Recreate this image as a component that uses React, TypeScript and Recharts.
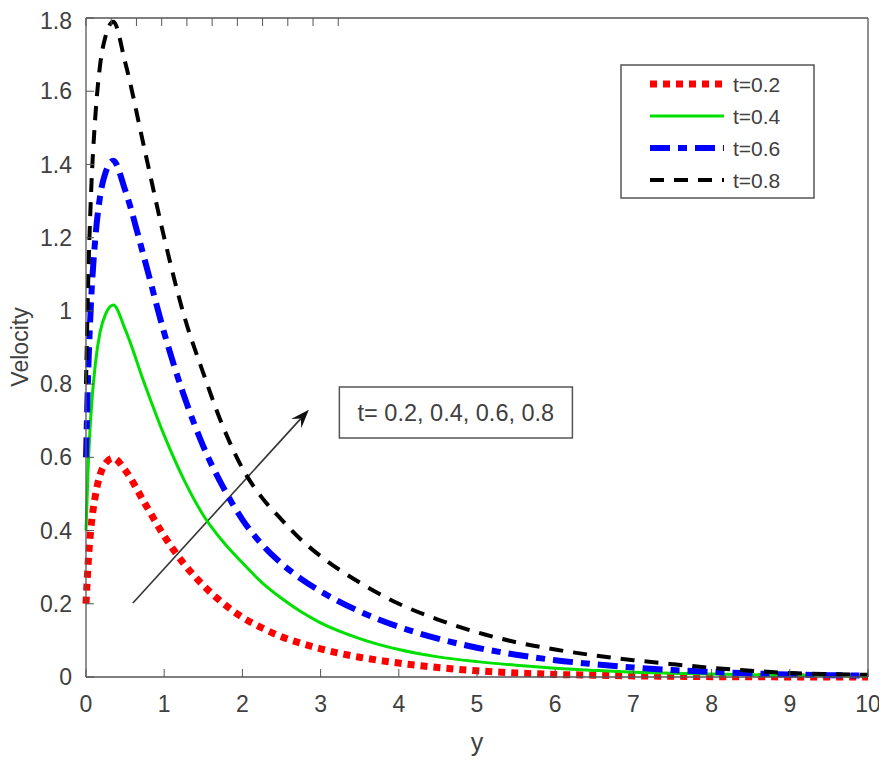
import { LineChart, Line, XAxis, YAxis, Legend, ReferenceArea, ReferenceLine } from "recharts";

// y positions (x-axis) and velocity profiles for each time
const yPos = [0, 0.03, 0.06, 0.12, 0.18, 0.25, 0.35, 0.5, 0.75, 1, 1.25, 1.5, 1.75, 2, 2.25, 2.5, 2.75, 3, 3.5, 4, 4.5, 5, 5.5, 6, 6.5, 7, 7.5, 8, 8.5, 9, 9.5, 10];
const t02 = [0.2, 0.32, 0.4, 0.496, 0.552, 0.584, 0.598, 0.565, 0.475, 0.385, 0.31, 0.25, 0.202, 0.163, 0.134, 0.11, 0.092, 0.077, 0.054, 0.038, 0.026, 0.017, 0.011, 0.007, 0.005, 0.003, 0.002, 0.001, 0.001, 0, 0, 0];
const t04 = [0.4, 0.585, 0.708, 0.856, 0.942, 0.991, 1.016, 0.95, 0.8, 0.66, 0.54, 0.442, 0.37, 0.312, 0.258, 0.215, 0.178, 0.148, 0.105, 0.075, 0.055, 0.042, 0.032, 0.024, 0.018, 0.013, 0.01, 0.008, 0.006, 0.005, 0.004, 0.003];
const t06 = [0.6, 0.843, 1.005, 1.2, 1.313, 1.378, 1.41, 1.33, 1.14, 0.94, 0.77, 0.63, 0.52, 0.43, 0.362, 0.31, 0.268, 0.234, 0.179, 0.137, 0.105, 0.08, 0.061, 0.046, 0.035, 0.026, 0.019, 0.014, 0.01, 0.007, 0.005, 0.004];
const t08 = [0.8, 1.097, 1.295, 1.533, 1.671, 1.75, 1.79, 1.68, 1.44, 1.2, 0.99, 0.83, 0.685, 0.57, 0.49, 0.43, 0.375, 0.33, 0.258, 0.2, 0.157, 0.122, 0.095, 0.075, 0.059, 0.046, 0.035, 0.025, 0.017, 0.011, 0.008, 0.006];

const xTicks = [0, 1, 2, 3, 4, 5, 6, 7, 8, 9, 10];
const yTicks = [0, 0.2, 0.4, 0.6, 0.8, 1, 1.2, 1.4, 1.6, 1.8];

const data = yPos.map((y, i) => ({ y, t02: t02[i], t04: t04[i], t06: t06[i], t08: t08[i] }));

const series = [
  { key: "t02", name: "t=0.2", color: "#ff0000", width: 7, dash: "7 6" },
  { key: "t04", name: "t=0.4", color: "#00e000", width: 3, dash: undefined },
  { key: "t06", name: "t=0.6", color: "#0000ff", width: 6, dash: "20 8 9 8" },
  { key: "t08", name: "t=0.8", color: "#000000", width: 4, dash: "14 10" },
];

const FONT = "'Liberation Sans', Arial, sans-serif";
const AXIS = "#555555";
const TEXT = "#404040";

function LegendBox() {
  return (
    <svg width={195} height={135} style={{ display: "block" }}>
      <rect x={1} y={1} width={193} height={133} fill="#fff" stroke={AXIS} strokeWidth={1.5} />
      {series.map((s, i) => {
        const cy = 20 + i * 32;
        return (
          <g key={s.key}>
            <line x1={30} x2={104} y1={cy} y2={cy} stroke={s.color} strokeWidth={s.width} strokeDasharray={s.dash} />
            <text x={113} y={cy + 8} fontSize={21} fill={TEXT} fontFamily={FONT}>{s.name}</text>
          </g>
        );
      })}
    </svg>
  );
}

function Arrow(props: any) {
  const { x1, y1, x2, y2 } = props;
  const ang = Math.atan2(y2 - y1, x2 - x1);
  const len = 20;
  const half = 0.35;
  const p1 = [x2 - len * Math.cos(ang - half), y2 - len * Math.sin(ang - half)];
  const p2 = [x2 - len * Math.cos(ang + half), y2 - len * Math.sin(ang + half)];
  const pb = [x2 - len * 0.6 * Math.cos(ang), y2 - len * 0.6 * Math.sin(ang)];
  return (
    <g>
      <line x1={x1} y1={y1} x2={pb[0]} y2={pb[1]} stroke="#333" strokeWidth={1.6} />
      <polygon points={`${x2},${y2} ${p1[0]},${p1[1]} ${pb[0]},${pb[1]} ${p2[0]},${p2[1]}`} fill="#111" />
    </g>
  );
}

export default function App() {
  return (
    <LineChart width={879} height={756} data={data} margin={{ top: 0, right: 9, bottom: 27, left: 18 }}>
      <XAxis
        dataKey="y"
        type="number"
        domain={[0, 10]}
        ticks={xTicks}
        tickSize={-8}
        tickMargin={27}
        axisLine={{ stroke: AXIS, strokeWidth: 1.3 }}
        tickLine={{ stroke: AXIS }}
        tick={{ fill: TEXT, fontSize: 23, fontFamily: FONT }}
        height={60}
        label={{
          content: () => (
            <text x={469} y={743} textAnchor="middle" fontSize={25} fill={TEXT} fontFamily={FONT}>y</text>
          ),
        }}
      />
      <XAxis
        xAxisId="top"
        orientation="top"
        type="number"
        domain={[0, 10]}
        ticks={xTicks}
        tickSize={-8}
        tickFormatter={() => ""}
        axisLine={{ stroke: AXIS, strokeWidth: 1.3 }}
        tickLine={{ stroke: AXIS }}
        height={10}
      />
      <YAxis
        type="number"
        domain={[0, 1.8]}
        ticks={yTicks}
        tickSize={-8}
        tickMargin={22}
        axisLine={{ stroke: AXIS, strokeWidth: 1.3 }}
        tickLine={{ stroke: AXIS }}
        tick={{ fill: TEXT, fontSize: 23, fontFamily: FONT }}
        width={60}
        label={{
          content: () => (
            <text
              x={20}
              y={339}
              textAnchor="middle"
              fontSize={23}
              fill={TEXT}
              fontFamily={FONT}
              transform="rotate(-90 20 339)"
            >
              Velocity
            </text>
          ),
        }}
      />
      <YAxis
        yAxisId="right"
        orientation="right"
        type="number"
        domain={[0, 1.8]}
        ticks={yTicks}
        tickSize={-8}
        tickFormatter={() => ""}
        axisLine={{ stroke: AXIS, strokeWidth: 1.3 }}
        tickLine={{ stroke: AXIS }}
        width={10}
      />
      <ReferenceArea
        x1={3.24}
        x2={6.22}
        y1={0.653}
        y2={0.792}
        fill="#fff"
        fillOpacity={1}
        stroke={AXIS}
        strokeWidth={1.5}
        label={{ value: "t= 0.2, 0.4, 0.6, 0.8", position: "center", fontSize: 23.5, fill: TEXT, fontFamily: FONT }}
      />
      <ReferenceLine
        segment={[
          { x: 0.6, y: 0.202 },
          { x: 2.85, y: 0.73 },
        ]}
        shape={(p: any) => <Arrow {...p} />}
      />
      {series.map((s) => (
        <Line
          key={s.key}
          type="monotone"
          dataKey={s.key}
          name={s.name}
          stroke={s.color}
          strokeWidth={s.width}
          strokeDasharray={s.dash}
          dot={false}
          activeDot={false}
          isAnimationActive={false}
        />
      ))}
      <Legend
        layout="horizontal"
        verticalAlign="middle"
        align="center"
        content={() => <LegendBox />}
        wrapperStyle={{ position: "absolute", left: 612, top: 56, width: 195, height: 135 }}
      />
    </LineChart>
  );
}
